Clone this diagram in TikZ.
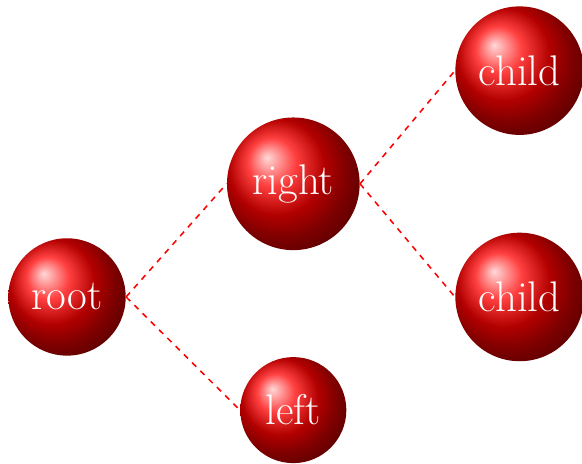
\documentclass[tikz,border=0pt]{standalone}
\usepackage{tikz}

\begin{document}
\begin{tikzpicture}[ball/.style={circle,ball color=red,text=white,font=\fontsize{22.1}{26.5}\selectfont,inner sep=8.1pt},link/.style={red,dashed,thick}]
 \useasboundingbox (-1.214,-3.025) rectangle (9.33,5.38);
 \node[ball] (root) at (0,0) {root}; \node[ball] (right) at (4.1,2.05) {right}; \node[ball] (left) at (4.1,-2.05) {left};
 \node[ball] (childa) at (8.2,4.1) {child}; \node[ball] (childb) at (8.2,0) {child};
 \draw[link] (root.east)--(right.west); \draw[link] (root.east)--(left.west);
 \draw[link] (right.east)--(childa.west); \draw[link] (right.east)--(childb.west);
\end{tikzpicture}
\end{document}
